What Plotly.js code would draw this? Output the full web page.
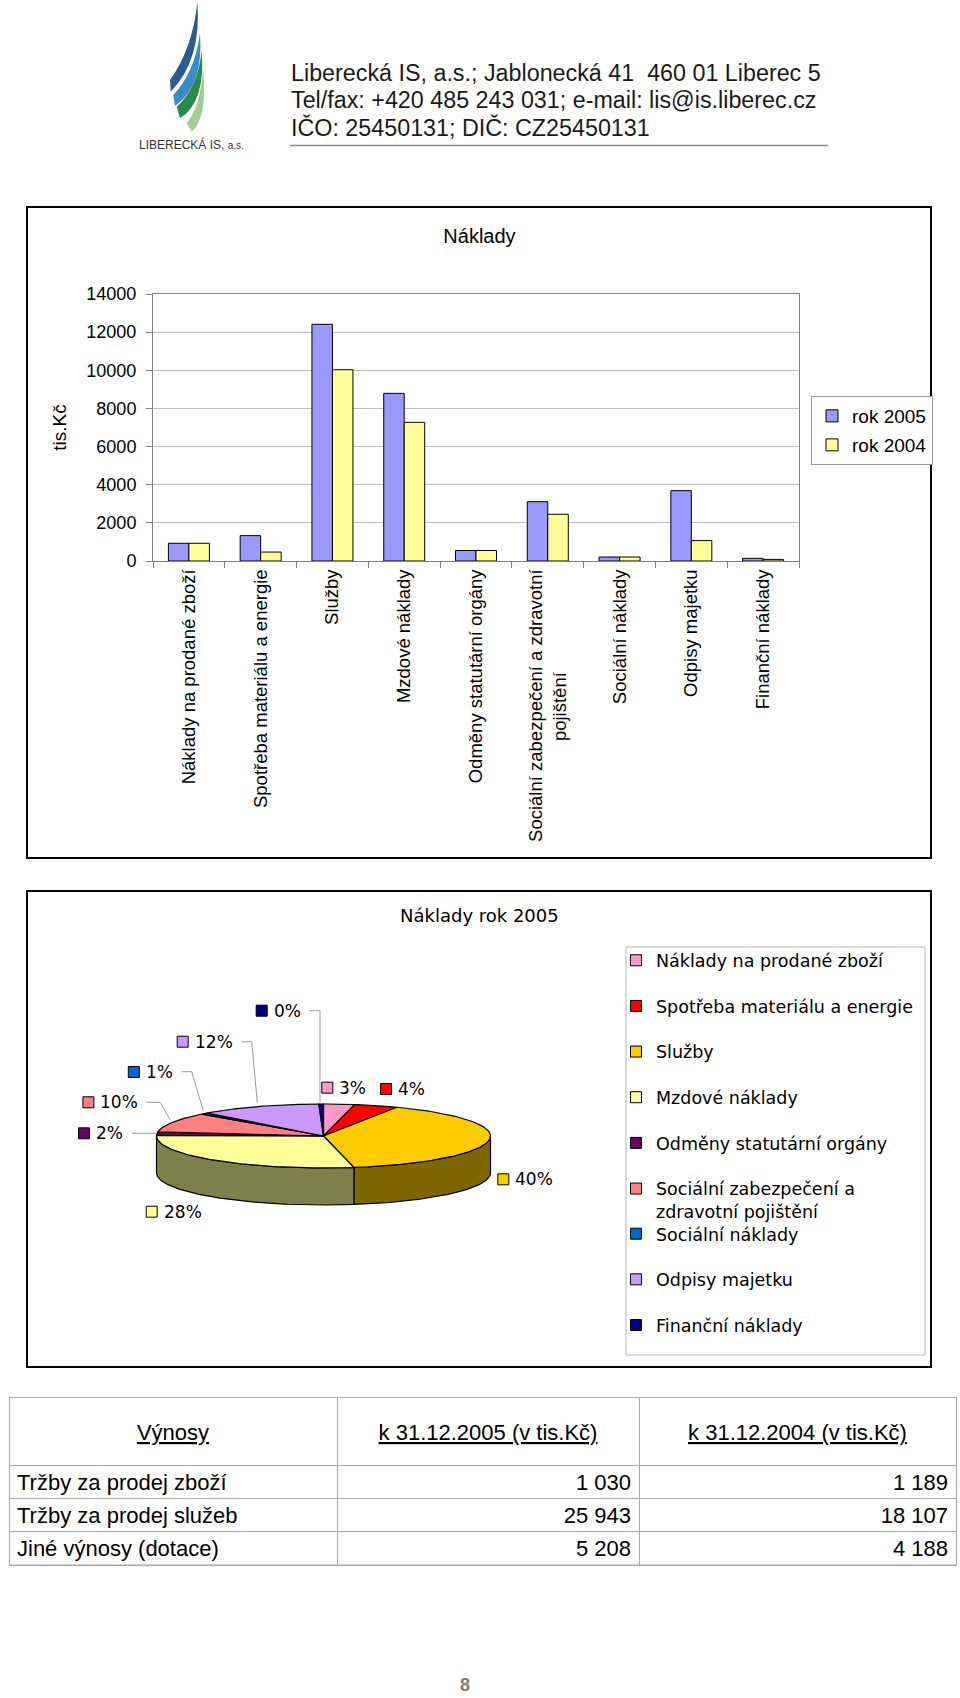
<!DOCTYPE html>
<html>
<head>
<meta charset="utf-8">
<script src="https://cdn.plot.ly/plotly-3.0.1.min.js"></script>
<style>html,body{margin:0;padding:0;background:#fff}#chart{width:960px;height:1698px}</style>
</head>
<body>
<div id="chart"></div>
<script>
// ---------------- DATA ----------------
const categories = ['Náklady na prodané zboží','Spotřeba materiálu a energie','Služby','Mzdové náklady','Odměny statutární orgány','Sociální zabezpečení a zdravotní pojištění','Sociální náklady','Odpisy majetku','Finanční náklady'];
const tickLabels = ['Náklady na prodané zboží','Spotřeba materiálu a energie','Služby','Mzdové náklady','Odměny statutární orgány','Sociální zabezpečení a zdravotní<br>pojištění','Sociální náklady','Odpisy majetku','Finanční náklady'];
const legendLabels = ['Náklady na prodané zboží','Spotřeba materiálu a energie','Služby','Mzdové náklady','Odměny statutární orgány','Sociální zabezpečení a<br>zdravotní pojištění','Sociální náklady','Odpisy majetku','Finanční náklady'];
const values2005 = [930, 1330, 12410, 8790, 550, 3110, 210, 3690, 140];
const values2004 = [930, 470, 10030, 7270, 550, 2450, 210, 1070, 85];
const seriesNames = ['rok 2005', 'rok 2004'];
const yTicks = [0, 2000, 4000, 6000, 8000, 10000, 12000, 14000];
const barTitle = 'Náklady';
const yTitle = 'tis.Kč';
const pieTitle = 'Náklady rok 2005';
const tableHeader = ['Výnosy', 'k 31.12.2005 (v tis.Kč)', 'k 31.12.2004 (v tis.Kč)'];
const revenueItems = ['Tržby za prodej zboží', 'Tržby za prodej služeb', 'Jiné výnosy (dotace)'];
const revenue2005 = [1030, 25943, 5208];
const revenue2004 = [1189, 18107, 4188];
const headerLines = ['Liberecká IS, a.s.; Jablonecká 41  460 01 Liberec 5', 'Tel/fax: +420 485 243 031; e-mail: lis@is.liberec.cz', 'IČO: 25450131; DIČ: CZ25450131'];
const logoText = 'LIBERECKÁ IS, <span style="font-size:10px">a.s.</span>';
const pageNumber = '8';

// ---------------- STYLE / LAYOUT CONSTANTS ----------------
const W = 960, H = 1698;
const fx = x => x / W, fy = y => 1 - y / H;
const ARIAL = 'Liberation Sans, Arial, sans-serif';
const DEJA = 'DejaVu Sans, Verdana, sans-serif';
const barColors = ['#9999FF', '#FFFF99'];
const pieColors = ['#FF99CC','#FF0000','#FFCC00','#FFFF99','#660066','#FF8080','#0066CC','#CC99FF','#000080'];
const PIE = {cx: 323.5, cy: 1136, rx: 167, ry: 32, depth: 37};
const labelPos = [[327.3,1087.7],[386,1089],[503.3,1179.3],[151.7,1211.7],[84,1133.3],[88.4,1102.3],[133.8,1072],[182.7,1041.7],[261.7,1010.7]];
const leaders = {
  8: [[309,1010.7],[320,1010.7],[320,1102.5]],
  7: [[241.7,1041.7],[251.7,1041.7],[257.3,1102.7]],
  6: [[181.7,1071.7],[191.7,1071.7],[203.3,1110.7]],
  5: [[146.5,1102.3],[160.3,1102.3],[170.2,1120]],
  4: [[131.9,1133.3],[156.4,1133.3]]
};
const CAT_FONT = 18.5;
const SPACER = '<span style="color:rgba(0,0,0,0)">.</span><br>';

function shade(hex, f) {
  const n = parseInt(hex.slice(1), 16);
  const r = Math.round(((n >> 16) & 255) * f), g = Math.round(((n >> 8) & 255) * f), b = Math.round((n & 255) * f);
  return 'rgb(' + r + ',' + g + ',' + b + ')';
}
const fmtNum = n => String(n).replace(/\B(?=(\d{3})+(?!\d))/g, '\u00a0');
function centerLines(label, font) {
  const lines = label.split('<br>');
  if (lines.length < 2) return label;
  const ctx = document.createElement('canvas').getContext('2d');
  ctx.font = font;
  const w = lines.map(l => ctx.measureText(l).width);
  const maxW = Math.max.apply(null, w);
  const sp = ctx.measureText('\u00a0').width || 5;
  return lines.map((l, i) => l + '\u00a0'.repeat(Math.max(0, Math.round((maxW - w[i]) / 2 / sp)))).join('<br>');
}

// ---------------- TRACES ----------------
const traces = [];
traces.push({type:'bar', x:categories, y:values2005, name:seriesNames[0], xaxis:'x', yaxis:'y',
  marker:{color:barColors[0], line:{color:'#000', width:1}}, legend:'legend', legendgroup:'b0', hoverinfo:'skip'});
traces.push({type:'bar', x:categories, y:values2004, name:seriesNames[1], xaxis:'x', yaxis:'y',
  marker:{color:barColors[1], line:{color:'#000', width:1}}, legend:'legend', legendgroup:'b1', hoverinfo:'skip'});

const total = values2005.reduce((a, b) => a + b, 0);
function ept(t, dy) { return [PIE.cx + PIE.rx * Math.sin(t), PIE.cy - PIE.ry * Math.cos(t) + dy]; }
function arc(a, b, dy) {
  const n = Math.max(2, Math.ceil(Math.abs(b - a) / (Math.PI / 180)));
  const pts = [];
  for (let k = 0; k <= n; k++) pts.push(ept(a + (b - a) * k / n, dy));
  return pts;
}
const angles = [];
let cum = 0;
values2005.forEach(v => { const a0 = cum / total * 2 * Math.PI; cum += v; angles.push([a0, cum / total * 2 * Math.PI]); });
const sideTraces = [], topTraces = [];
angles.forEach(([a0, a1], i) => {
  const lo = Math.max(a0, Math.PI / 2), hi = Math.min(a1, 3 * Math.PI / 2);
  if (hi > lo) {
    const pts = arc(lo, hi, 0).concat(arc(hi, lo, PIE.depth));
    pts.push(pts[0]);
    sideTraces.push({type:'scatter', mode:'lines', x:pts.map(p => p[0]), y:pts.map(p => p[1]), fill:'toself',
      fillcolor:shade(pieColors[i], 0.5), line:{color:'#000', width:1.2}, xaxis:'x2', yaxis:'y2', showlegend:false, hoverinfo:'skip'});
  }
  const tp = [[PIE.cx, PIE.cy]].concat(arc(a0, a1, 0));
  tp.push([PIE.cx, PIE.cy]);
  topTraces.push({type:'scatter', mode:'lines', x:tp.map(p => p[0]), y:tp.map(p => p[1]), fill:'toself',
    fillcolor:pieColors[i], line:{color:'#000', width:1.2}, xaxis:'x2', yaxis:'y2', showlegend:false, hoverinfo:'skip'});
});
traces.push(...sideTraces, ...topTraces);

legendLabels.forEach((lab, i) => {
  traces.push({type:'scatter', mode:'markers', x:[null], y:[null], name:lab, xaxis:'x2', yaxis:'y2',
    marker:{symbol:'square', size:11, color:pieColors[i], line:{color:'#000', width:1}},
    legend: i < 6 ? 'legend2' : 'legend3', legendgroup:'p' + i, hoverinfo:'skip'});
});

traces.push({type:'table', domain:{x:[fx(9), fx(956)], y:[fy(1568), fy(1397)]},
  columnwidth:[328, 302, 317],
  header:{values:tableHeader.map(t => SPACER + SPACER + '<span style="font-size:22px"><u>' + t + '</u></span>'), height:68, align:'center',
    font:{family:ARIAL, size:10, color:'#000'}, line:{color:'#a8a8a8', width:1}, fill:{color:'#fff'}},
  cells:{values:[revenueItems, revenue2005.map(fmtNum), revenue2004.map(fmtNum)], height:33.4,
    align:['left', 'right', 'right'], font:{family:ARIAL, size:22, color:'#000'},
    line:{color:'#a8a8a8', width:1}, fill:{color:'#fff'}}
});

// ---------------- SHAPES / ANNOTATIONS ----------------
const shapes = [];
const annotations = [];
shapes.push({type:'rect', xref:'paper', yref:'paper', x0:fx(27), x1:fx(931), y0:fy(207), y1:fy(858), line:{color:'#000', width:2}});
shapes.push({type:'rect', xref:'paper', yref:'paper', x0:fx(27), x1:fx(931), y0:fy(891), y1:fy(1367), line:{color:'#000', width:2}});
shapes.push({type:'rect', xref:'paper', yref:'paper', x0:fx(626), x1:fx(925), y0:fy(947), y1:fy(1355), line:{color:'#b4b4b4', width:1}});
shapes.push({type:'line', xref:'paper', yref:'paper', x0:fx(9), x1:fx(956), y0:fy(1565), y1:fy(1565), line:{color:'#a8a8a8', width:1}});
shapes.push({type:'line', xref:'paper', yref:'paper', x0:fx(290), x1:fx(828), y0:fy(145.5), y1:fy(145.5), line:{color:'#8a8a8a', width:1.5}});
function pxPath(cmds) {
  return cmds.map(c => c[0] + c.slice(1).map((v, k) => (k % 2 === 0 ? fx(v) : fy(v)).toFixed(5)).join(',')).join(' ') + ' Z';
}
const logoBands = [
  {c:'#2d5b8c', T:[197.3,1.5], A:[170,80], B:[170.7,91.7], C1:[193,48], C2:[202,60]},
  {c:'#3a8bc6', T:[200,33], A:[173.3,95], B:[175,106], C1:[195,72], C2:[204,86]},
  {c:'#2a8a4e', T:[201.7,50], A:[176.7,106.7], B:[180,118.3], C1:[198,88], C2:[206,102]},
  {c:'#a5cc93', T:[203,67], A:[186.7,123.3], B:[191.7,131.7], C1:[201,106], C2:[208,118]}
];
logoBands.forEach(b => {
  shapes.push({type:'path', xref:'paper', yref:'paper', fillcolor:b.c, line:{width:0},
    path: pxPath([['M', ...b.T], ['Q', ...b.C1, ...b.A], ['L', ...b.B], ['Q', ...b.C2, ...b.T]])});
});
annotations.push({xref:'paper', yref:'paper', x:fx(191), y:fy(145), text:logoText, showarrow:false,
  xanchor:'center', yanchor:'middle', font:{family:ARIAL, size:12, color:'#333'}});
headerLines.forEach((t, i) => {
  annotations.push({xref:'paper', yref:'paper', x:fx(289), y:fy(73.5 + 26.8 * i), text:t.replace(/  /g, '\u00a0 '), showarrow:false,
    xanchor:'left', yanchor:'middle', font:{family:ARIAL, size:23.3, color:'#1a1a1a'}});
});
annotations.push({xref:'paper', yref:'paper', x:fx(479.6), y:fy(915), text:pieTitle, showarrow:false,
  xanchor:'center', yanchor:'middle', font:{family:DEJA, size:18, color:'#000'}});
values2005.forEach((v, i) => {
  const [sx, sy] = labelPos[i];
  shapes.push({type:'rect', xref:'paper', yref:'paper', x0:fx(sx - 5.5), x1:fx(sx + 5.5), y0:fy(sy + 5.5), y1:fy(sy - 5.5),
    fillcolor:pieColors[i], line:{color:'#000', width:1}});
  annotations.push({xref:'paper', yref:'paper', x:fx(sx + 10), y:fy(sy), text:Math.round(v / total * 100) + '%', showarrow:false,
    xanchor:'left', yanchor:'middle', font:{family:DEJA, size:17, color:'#000'}});
});
Object.keys(leaders).forEach(k => {
  const pts = leaders[k];
  shapes.push({type:'path', xref:'paper', yref:'paper', line:{color:'#9a9a9a', width:1},
    path: pts.map((p, j) => (j ? 'L' : 'M') + fx(p[0]).toFixed(5) + ',' + fy(p[1]).toFixed(5)).join(' ')});
});
annotations.push({xref:'paper', yref:'paper', x:fx(465), y:fy(1685), text:'<b>' + pageNumber + '</b>', showarrow:false,
  xanchor:'center', yanchor:'middle', font:{family:ARIAL, size:18, color:'#857a75'}});

// ---------------- LAYOUT ----------------
const layout = {
  width: W, height: H, margin:{l:0, r:0, t:0, b:0, pad:0}, autosize:false,
  paper_bgcolor:'#fff', plot_bgcolor:'rgba(0,0,0,0)',
  font:{family:ARIAL, size:18, color:'#000'},
  barmode:'group', bargap:0.4286, bargroupgap:0,
  title:{text:barTitle, x:fx(479.5), xanchor:'center', y:fy(236), yanchor:'middle', font:{family:ARIAL, size:20, color:'#000'}},
  xaxis:{domain:[fx(153), fx(799)], anchor:'y', type:'category', tickmode:'array', tickvals:categories,
    ticktext:tickLabels.map(l => centerLines(l, CAT_FONT + 'px "Liberation Sans", Arial, sans-serif')),
    tickangle:-90, ticks:'outside', tickson:'boundaries', ticklen:6, tickcolor:'#808080', showline:true, linecolor:'#808080',
    linewidth:1, mirror:true, showgrid:false, tickfont:{family:ARIAL, size:CAT_FONT, color:'#000'}, fixedrange:true},
  yaxis:{domain:[fy(561), fy(294)], anchor:'x', range:[0, 14000], tickmode:'array', tickvals:yTicks, ticktext:yTicks.map(String),
    ticks:'outside', ticklen:6, tickcolor:'#808080', showline:true, linecolor:'#808080', linewidth:1, mirror:true,
    gridcolor:'#bdbdbd', gridwidth:1, zeroline:false, tickfont:{family:ARIAL, size:18, color:'#000'}, ticklabelstandoff:6,
    fixedrange:true, title:{text:yTitle, font:{family:ARIAL, size:19, color:'#000'}, standoff:14}},
  xaxis2:{domain:[fx(27), fx(931)], range:[27, 931], anchor:'y2', visible:false, fixedrange:true},
  yaxis2:{domain:[fy(1367), fy(891)], range:[1367, 891], anchor:'x2', visible:false, fixedrange:true},
  legend:{x:fx(811), xanchor:'left', y:fy(396), yanchor:'top', bordercolor:'#9a9a9a', borderwidth:1, bgcolor:'#fff',
    font:{family:ARIAL, size:19, color:'#000'}, tracegroupgap:1.3, itemclick:false, itemdoubleclick:false},
  legend2:{x:fx(616), xanchor:'left', y:fy(942.4), yanchor:'top', borderwidth:0, bgcolor:'rgba(0,0,0,0)',
    font:{family:DEJA, size:17.5, color:'#000'}, tracegroupgap:19.9, valign:'top', itemclick:false, itemdoubleclick:false},
  legend3:{x:fx(616), xanchor:'left', y:fy(1215.8), yanchor:'top', borderwidth:0, bgcolor:'rgba(0,0,0,0)',
    font:{family:DEJA, size:17.5, color:'#000'}, tracegroupgap:19.9, valign:'top', itemclick:false, itemdoubleclick:false},
  shapes: shapes,
  annotations: annotations,
  hovermode:false
};

Plotly.newPlot('chart', traces, layout, {staticPlot:true, displayModeBar:false});
</script>
</body>
</html>
